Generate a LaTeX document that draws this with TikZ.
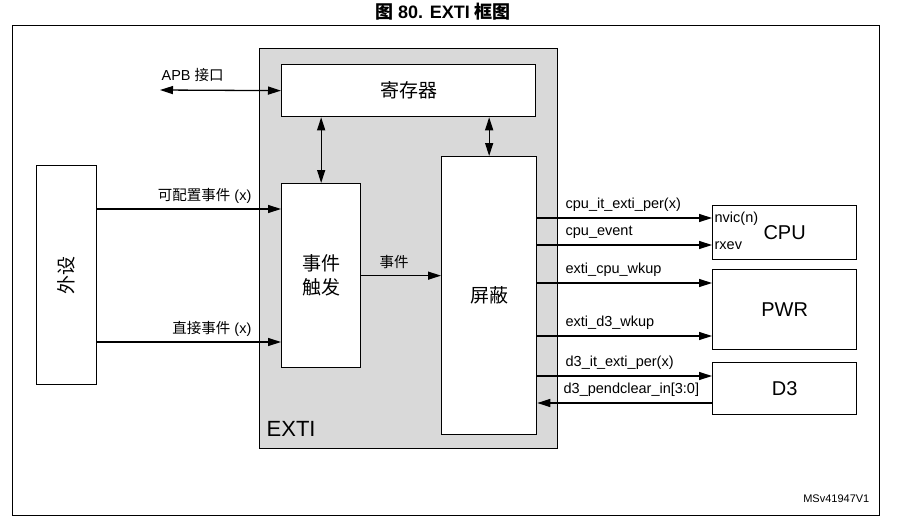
\documentclass[tikz,border=0pt]{standalone}
\usepackage{fontspec}
\setmainfont{Liberation Sans}
\newfontfamily\cjk{Noto Sans CJK SC}
\usetikzlibrary{arrows.meta,positioning}

\begin{document}
\begin{tikzpicture}[x=1pt,y=-1pt,line width=1.3pt,
        box/.style = {draw, fill=white, anchor=north west, inner sep=0pt, font=\fontsize{20}{24}\selectfont},
        arr/.style = {-{Triangle[length=13pt,width=8pt]}},
        darr/.style = {{Triangle[length=13pt,width=8pt]}-{Triangle[length=13pt,width=8pt]}},
        lbl/.style = {font=\fontsize{14.5}{17}\selectfont, inner sep=0pt, anchor=base west}]
        \useasboundingbox (0,0) rectangle (905,522);
        \node[font=\bfseries\fontsize{18}{21}\selectfont] (title) at (443,12) {{\cjk 图} 80. EXTI {\cjk 框图}};
        \draw[line width=1pt] (12,25) rectangle (879,515);
        % EXTI block
        \node[box, fill=black!15, minimum width=298, minimum height=400] (exti) at (259,48) {};
        \node[font=\fontsize{22}{26}\selectfont, anchor=base west, inner sep=0pt] (extilbl) at (266,436) {EXTI};
        \node[box, minimum width=254, minimum height=52, font=\fontsize{19}{23}\selectfont] (reg) at (281,64) {\cjk 寄存器};
        \node[box, minimum width=79, minimum height=184, align=center, font=\fontsize{19}{24}\selectfont] (trig) at (281,183) {\cjk 事件\\\cjk 触发};
        \node[box, minimum width=95, minimum height=278, font=\fontsize{19}{23}\selectfont] (mask) at (441,156) {\cjk 屏蔽};
        % outside blocks
        \node[box, minimum width=60, minimum height=219] (per) at (36,165) {};
        \node[rotate=90, font=\fontsize{19}{23}\selectfont] (perlbl) at (per.center) {\cjk 外设};
        \node[box, minimum width=144, minimum height=54] (cpu) at (712,205) {CPU};
        \node[box, minimum width=144, minimum height=80] (pwr) at (712,269) {PWR};
        \node[box, minimum width=144, minimum height=52] (dthree) at (712,362) {D3};
        \node[lbl] (nvic) at (714,222) {nvic(n)};
        \node[lbl] (rxev) at (714,249) {rxev};
        % APB and register links
        \coordinate (apb) at (160,90);
        \draw[darr] (apb) -- (reg.west);
        \node[lbl] (apblbl) at (161,80) {APB {\cjk 接口}};
        \draw[darr] (reg.south -| trig.north) -- (trig.north);
        \draw[darr] (reg.south -| mask.north) -- (mask.north);
        % peripheral events
        \draw[arr] (per.east |- 0,209) -- (trig.west |- 0,209);
        \node[lbl, anchor=base east] (cfglbl) at (252,200) {{\cjk 可配置事件} (x)};
        \draw[arr] (per.east |- 0,342) -- (trig.west |- 0,342);
        \node[lbl, anchor=base east] (dirlbl) at (252,333) {{\cjk 直接事件} (x)};
        \draw[arr] (trig.east) -- (mask.west |- trig.east);
        \node[lbl] (evlbl) at (379,267) {\cjk 事件};
        % mask outputs
        \foreach \y/\t/\l in {218/cpu/cpu\_it\_exti\_per(x), 245/cpu/cpu\_event, 283/pwr/exti\_cpu\_wkup,
                336/pwr/exti\_d3\_wkup, 376/dthree/d3\_it\_exti\_per(x)} {
            \draw[arr] (mask.east |- 0,\y) -- (\t.west |- 0,\y);
            \node[lbl] at (565,\y-10) {\l};
        }
        \draw[arr] (dthree.west |- 0,403) -- (mask.east |- 0,403);
        \node[lbl] (clrlbl) at (563,393) {d3\_pendclear\_in[3:0]};
        \node[font=\fontsize{11}{13}\selectfont, anchor=base east, inner sep=0pt] (ref) at (870,502) {MSv41947V1};
\end{tikzpicture}
\end{document}
